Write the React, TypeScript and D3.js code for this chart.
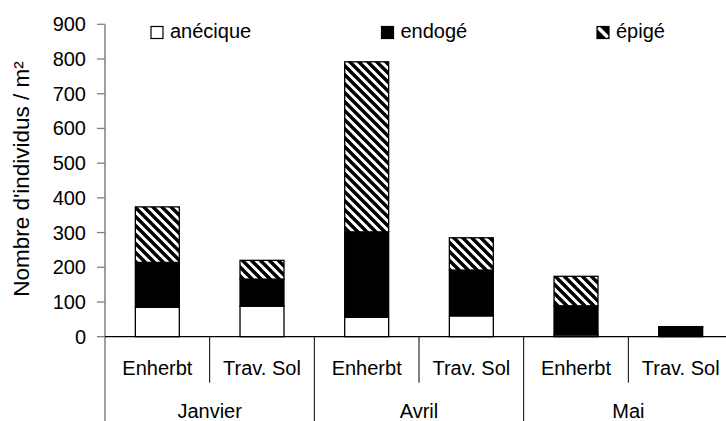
import React, { useEffect } from 'react'
import * as d3 from 'd3'

// data
const months = ['Janvier', 'Avril', 'Mai']
const treatments = ['Enherbt', 'Trav. Sol']
const series = ['anécique', 'endogé', 'épigé']
const anecique = [85, 88, 56, 60, 5, 0]
const endoge = [129, 78, 246, 132, 84, 26]
const epige = [160, 54, 490, 93, 85, 3]
const yTicks = [0, 100, 200, 300, 400, 500, 600, 700, 800, 900]

const W = 726
const H = 421
const left = 105
const catW = 104.67
const top = 24.3
const bottom = 336.7
const font = 'Liberation Sans, Arial, sans-serif'

const App = () => {
    useEffect(() => {
        document.body.style.margin = '0'
    }, [])

    const cats = months.flatMap((m) => treatments.map((t) => `${m}|${t}`))
    const x = d3
        .scaleBand()
        .domain(cats)
        .range([left, left + catW * cats.length])
        .paddingInner(0.58)
        .paddingOuter(0.29)
    const y = d3.scaleLinear().domain([0, 900]).range([bottom, top])

    const rows = cats.map((c, i) => ({ cat: c, anecique: anecique[i], endoge: endoge[i], epige: epige[i] }))
    const stack = d3.stack<any>().keys(['anecique', 'endoge', 'epige'])(rows)
    const fills = ['#fff', '#000', 'url(#hatch)']

    const catStep = catW
    const fs = 20

    return (
        <svg width={W} height={H} style={{ display: 'block' }} fontFamily={font}>
            <defs>
                <pattern id="hatch" patternUnits="userSpaceOnUse" width={9} height={9}>
                    <rect width={9} height={9} fill="#fff" />
                    <path d="M-2,-2 L11,11 M-2,7 L2,11 M7,-2 L11,2" stroke="#000" strokeWidth={3.4} />
                </pattern>
                <pattern id="hatchL" patternUnits="userSpaceOnUse" x={597} y={26.5} width={12} height={12}>
                    <rect width={12} height={12} fill="#000" />
                    <path d="M1,1 L11,11" stroke="#fff" strokeWidth={3.5} />
                </pattern>
            </defs>

            {/* bars */}
            {stack.map((s, si) =>
                s.map((d, i) =>
                    d[1] - d[0] > 0 ? (
                        <rect
                            key={`${si}-${i}`}
                            x={x(cats[i])}
                            width={x.bandwidth()}
                            y={y(d[1])}
                            height={y(d[0]) - y(d[1])}
                            fill={fills[si]}
                            stroke="#000"
                            strokeWidth={1.3}
                        />
                    ) : null
                )
            )}

            {/* y axis */}
            <line x1={left} x2={left} y1={top} y2={H} stroke="#808080" strokeWidth={1.5} />
            {yTicks.map((t) => (
                <g key={t}>
                    <line x1={left - 8} x2={left} y1={y(t)} y2={y(t)} stroke="#808080" strokeWidth={1.3} />
                    <text x={86} y={y(t)} dy="0.35em" textAnchor="end" fontSize={fs}>
                        {t}
                    </text>
                </g>
            ))}
            <text
                transform={`translate(29,179) rotate(-90)`}
                textAnchor="middle"
                fontSize={22.5}
            >
                Nombre d'individus / m²
            </text>

            {/* x axis */}
            <line x1={left} x2={W} y1={bottom} y2={bottom} stroke="#000" strokeWidth={1.3} />
            {cats.map((c, i) => {
                const x0 = left + i * catStep
                const isGroup = i % 2 === 0
                return (
                    <g key={c}>
                        {i > 0 && (
                            <line
                                x1={x0}
                                x2={x0}
                                y1={bottom}
                                y2={isGroup ? H : 382.7}
                                stroke="#000"
                                strokeWidth={1}
                            />
                        )}
                        <text x={x0 + catStep / 2} y={375} textAnchor="middle" fontSize={fs}>
                            {c.split('|')[1]}
                        </text>
                    </g>
                )
            })}
            {months.map((m, i) => (
                <text key={m} x={left + (i * 2 + 1) * catStep} y={418} textAnchor="middle" fontSize={fs}>
                    {m}
                </text>
            ))}

            {/* legend */}
            {series.map((s, i) => {
                const lx = [151, 381.5, 597][i]
                return (
                    <g key={s}>
                        <rect x={lx} y={26.5} width={12} height={12} fill={i === 2 ? 'url(#hatchL)' : fills[i]} stroke="#000" strokeWidth={1.2} />
                        <text x={lx + 19} y={38} fontSize={fs}>
                            {s}
                        </text>
                    </g>
                )
            })}
        </svg>
    )
}

export default App
